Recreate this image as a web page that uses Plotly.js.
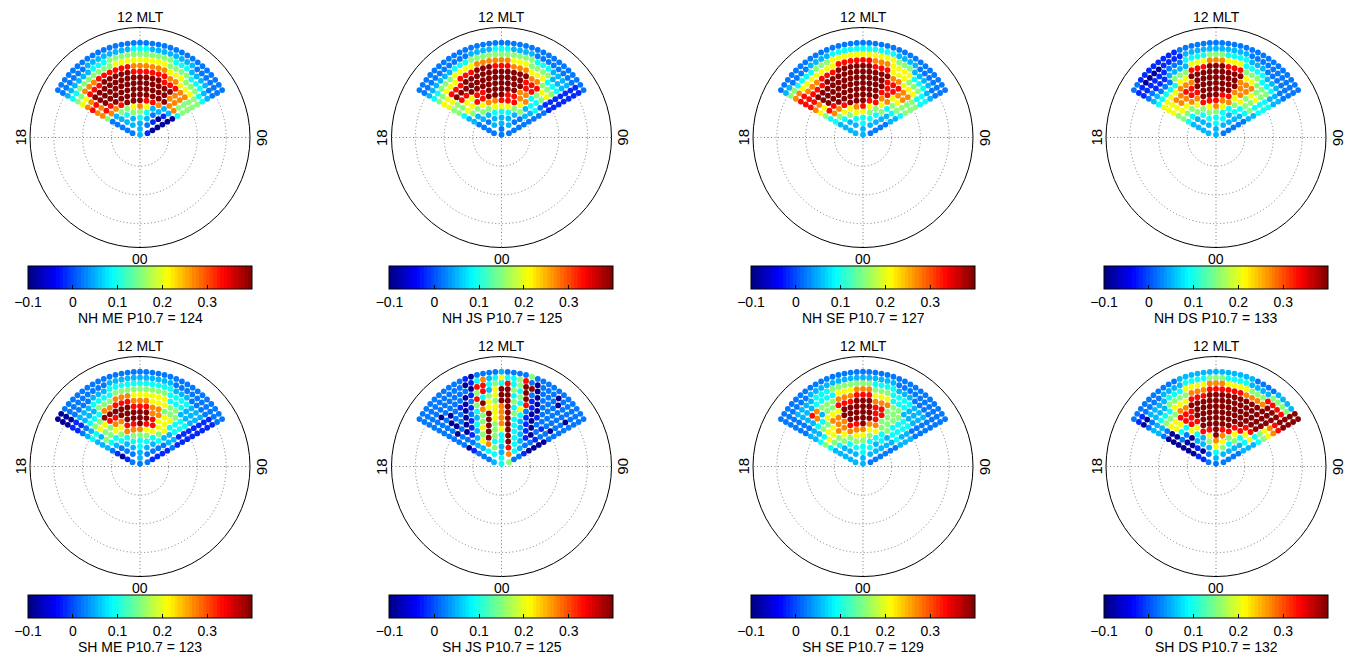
<!DOCTYPE html>
<html><head><meta charset="utf-8">
<script src="https://cdn.plot.ly/plotly-3.0.1.min.js"></script>
<style>html,body{margin:0;padding:0;background:#fff}#chart{width:1352px;height:655px}</style>
</head><body><div id="chart"></div>
<script>
// Row colatitudes (deg from pole), innermost to outermost
const ROW_COLAT = [1,3,5,7,9,11,13,15,17,19,21,23,25,27,29,31,33];
// Level values for the digit codes used in the panel rows
const LEVELS = [-0.09,-0.015,0.02,0.05,0.09,0.15,0.21,0.27,0.33,0.40];
const TICK_VALS = [-0.1,0,0.1,0.2,0.3];
const TICK_TEXT = ['\u22120.1','0','0.1','0.2','0.3'];
const PANEL_TITLES = ['NH ME P10.7 = 124','NH JS P10.7 = 125','NH SE P10.7 = 127','NH DS P10.7 = 133',
                      'SH ME P10.7 = 123','SH JS P10.7 = 125','SH SE P10.7 = 129','SH DS P10.7 = 132'];
// each row: one digit per dot, left (16 MLT) to right (08 MLT)
const NH_ME = ["3","231","23320","2334310","234554200","23556763310","5778999887330","788999999999774",
 "77999999999997755","8899999999999997755","779999999999998887755","66888999998888887766655",
 "5577788888877777766655544","445555555666666666555544433","33333344455555555555444333322",
 "2222223333333344433333333222222","222222222222222222222222222222222"];
const NH_JS = ["2","222","23332","2233322","233444322","33556665532","3556778886332","466889998877442",
 "55668899999774422","5588999999999885511","669999999999998886611","66888999999999997755511",
 "5566688899988877766644411","445556666777777666555533311","33333344455555555555444333311",
 "2222222222333344433332222222211","222222222222222222222222222222222"];
const NH_SE = ["3","332","33432","3344432","345665432","45667865533","4778999886443","588999999977554",
 "66999999999886655","7799999999999887755","889999999999998887755","88888999999999997766644",
 "8877788899999988866655544","776666666888888777666644433","55444455566666666666555333322",
 "3322223333444444444443333222222","222222222222222222222222222222222"];
const NH_DS = ["3","332","33432","3344432","334554332","44556764432","5556888775443","566779998866553",
 "66778899999775544","6677889999999776644","666677799999997775544","44444669999999996655533",
 "3322255588899988855544433","221113333666777666444433322","11111122244445554444333222222",
 "1100001111333333333332222222222","221111111122222222222222222222222"];
const SH_ME = ["2","232","12321","0234321","123444321","23445554421","3445777665332","355668898866331",
 "33557799998664411","4466889999977664411","335599999888775554411","22444778887776665533311",
 "1133355577766666644433311","113334444555555555444433311","00222233344444444444333222211",
 "0022222222333333333332222222222","002222222222222222222222222222222"];
const SH_JS = ["4","345","24372","2453842","237449431","13695494320","0235956943120","221369579431010",
 "22014596794310220","2020135967954102122","220202476679462012202","22022015965995481022222",
 "2220210284569945910222222","220222201583699549202222202","22222222208845484599022202222",
 "2222222220147346445820222022222","222222222210222232222522222222222"];
const SH_SE = ["3","332","33432","3344432","334554332","34556654432","4556777664332","566778897755443",
 "44667799998554433","3355779999988554433","334466699999885554422","22373558889997775533322",
 "2238755577788866644433322","223334444666777555444433322","22333344455555554444333222222",
 "2222223333333333333332222222222","222222222222222222222222222222222"];
const SH_DS = ["2","232","12432","1036532","013576432","00336975533","0004889886443","022669999988663",
 "00448899999998844","0066889999999999955","226688899999999999966","33555779999999999999977",
 "3344466688899999999999988","223335555777888888777799999","00333344466667776666555888899",
 "1122223333444455544443333555599","222222222233333333333332222333399"];

const PANELS = [NH_ME, NH_JS, NH_SE, NH_DS, SH_ME, SH_JS, SH_SE, SH_DS];

const W = 1352, H = 655;
const CX = [140, 501.5, 863, 1216];
const CY = [137.5, 466.5];
const R = 110;
const FONT = 'Liberation Sans, Arial, Helvetica, sans-serif';

function jet(x){const f=v=>Math.max(0,Math.min(1,v));return [f(1.5-Math.abs(4*x-3)),f(1.5-Math.abs(4*x-2)),f(1.5-Math.abs(4*x-1))];}
const N = 64, jetScale = [];
for (let i=0;i<N;i++){
  const c = jet((i+0.5)/N).map(v=>Math.round(v*255));
  const s = 'rgb('+c.join(',')+')';
  jetScale.push([i/N, s]); jetScale.push([(i+1)/N, s]);
}

const traces = [], layout = {
  width: W, height: H, margin:{l:0,r:0,t:0,b:0}, paper_bgcolor:'#fff', showlegend:false,
  font:{family:FONT, size:14, color:'#000'}, annotations: []
};

PANELS.forEach((rows, p) => {
  const col = p % 4, row = Math.floor(p/4);
  const cx = CX[col], cy = CY[row];
  const key = p === 0 ? 'polar' : 'polar' + (p+1);
  const r=[], th=[], vals=[];
  rows.forEach((s,k) => {
    const n = s.length;
    for (let j=0;j<n;j++){
      const phi = n===1 ? 0 : -60 + 120*j/(n-1);
      r.push(ROW_COLAT[k]); th.push(180 - phi); vals.push(LEVELS[+s[j]]);
    }
  });
  traces.push({
    type:'scatterpolar', subplot:key, mode:'markers', r:r, theta:th, hoverinfo:'skip',
    marker:{size:5.8, color:vals, cmin:-0.1, cmax:0.4, colorscale:jetScale, line:{width:0},
      colorbar:{orientation:'h', x:cx/W, xanchor:'center', y:1-(cy+128.5)/H, yanchor:'top',
        len:224, lenmode:'pixels', thickness:23, thicknessmode:'pixels', xpad:0, ypad:0,
        outlinewidth:1, outlinecolor:'#000', tickvals:TICK_VALS, ticktext:TICK_TEXT,
        ticks:'inside', ticklen:4, tickcolor:'#000', tickfont:{family:FONT,size:14,color:'#000'}}}
  });
  layout[key] = {
    domain:{x:[(cx-R)/W,(cx+R)/W], y:[1-(cy+R)/H, 1-(cy-R)/H]},
    bgcolor:'#fff',
    radialaxis:{range:[0,38.3], tickvals:[10,20,30], showticklabels:false, ticks:'', showline:false,
      gridcolor:'#7a7a7a', griddash:'1px,2.5px', gridwidth:1},
    angularaxis:{rotation:-90, direction:'counterclockwise', tickvals:[0,90,180,270], showticklabels:false,
      ticks:'', gridcolor:'#7a7a7a', griddash:'1px,2.5px', gridwidth:1, showline:true, linecolor:'#000', linewidth:1}
  };
  const ann = (x,y,text,extra) => Object.assign({xref:'paper',yref:'paper',x:x/W,y:1-y/H,text:text,
    showarrow:false,xanchor:'center',yanchor:'middle',font:{family:FONT,size:14,color:'#000'}},extra||{});
  layout.annotations.push(ann(cx, cy-121, '12 MLT'));
  layout.annotations.push(ann(cx, cy+121, '00'));
  layout.annotations.push(ann(cx-120, cy, '18', {textangle:-90, font:{family:FONT,size:15,color:'#000'}}));
  layout.annotations.push(ann(cx+122, cy, '06', {textangle:90, font:{family:FONT,size:15,color:'#000'}}));
  layout.annotations.push(ann(cx, cy+180, PANEL_TITLES[p]));
});

Plotly.newPlot('chart', traces, layout, {staticPlot:true, displayModeBar:false});
</script></body></html>
